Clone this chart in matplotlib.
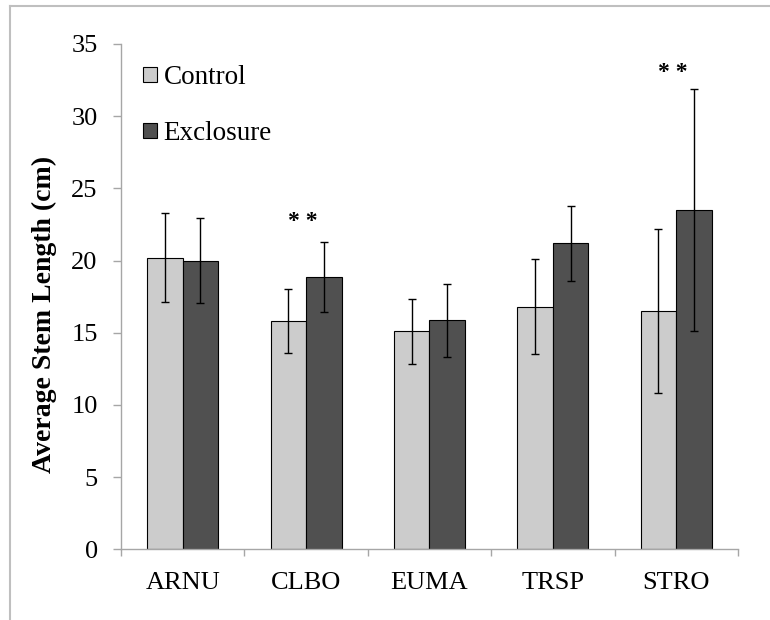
import numpy as np
import matplotlib
matplotlib.use('Agg')
import matplotlib.pyplot as plt
from matplotlib.patches import Patch
from matplotlib.lines import Line2D

plt.rcParams['font.family'] = ['Liberation Serif', 'DejaVu Serif']

#-----------------------------------------
species = ['ARNU', 'CLBO', 'EUMA', 'TRSP', 'STRO']
control = [20.2, 15.8, 15.1, 16.8, 16.5]
control_err = [3.1, 2.2, 2.25, 3.3, 5.7]
exclosure = [20.0, 18.85, 15.85, 21.2, 23.5]
exclosure_err = [2.95, 2.4, 2.5, 2.6, 8.4]
sig_species = ['CLBO', 'STRO']
sig_y = [22.7, 33.0]
#-----------------------------------------
c_col = '#cccccc'
e_col = '#505050'
axis_col = '#a6a6a6'

fig = plt.figure(figsize=(7.7, 6.2), dpi=100)
ax = fig.add_axes([0.1571, 0.1139, 0.8013, 0.8153])

x = np.arange(len(species))
w = 0.288
ax.bar(x - w/2, control, w, color=c_col, edgecolor='black', linewidth=0.8, zorder=2)
ax.bar(x + w/2, exclosure, w, color=e_col, edgecolor='black', linewidth=0.8, zorder=2)
ax.errorbar(x - w/2, control, yerr=control_err, fmt='none', ecolor='black',
            elinewidth=1.0, capsize=2.9, capthick=1.0, zorder=3)
ax.errorbar(x + w/2, exclosure, yerr=exclosure_err, fmt='none', ecolor='black',
            elinewidth=1.0, capsize=2.9, capthick=1.0, zorder=3)

for s, yy in zip(sig_species, sig_y):
    ax.text(species.index(s) - 0.03, yy, '* *', ha='center', va='center',
            fontsize=17, fontweight='bold')

ax.set_xlim(-0.5, len(species) - 0.5)
ax.set_ylim(0, 35)
ax.set_yticks(np.arange(0, 36, 5))
ax.set_xticks(x)
ax.set_xticklabels(species)
ax.set_xticks(np.arange(-0.5, len(species), 1), minor=True)
ax.tick_params(axis='x', which='major', length=0, pad=16, labelsize=19)
ax.tick_params(axis='x', which='minor', length=5, width=1.0, color=axis_col, direction='out')
ax.tick_params(axis='y', length=5.8, width=1.0, color=axis_col, pad=11, labelsize=19)
for sp in ['top', 'right']:
    ax.spines[sp].set_visible(False)
for sp in ['left', 'bottom']:
    ax.spines[sp].set_color(axis_col)
    ax.spines[sp].set_linewidth(1.0)

ax.set_ylabel('Average Stem Length (cm)', fontsize=20, fontweight='bold')
ax.yaxis.set_label_coords(-0.103, 0.464)

handles = [Patch(facecolor=c_col, edgecolor='black', linewidth=0.8),
           Patch(facecolor=e_col, edgecolor='black', linewidth=0.8)]
ax.legend(handles, ['Control', 'Exclosure'], loc='upper left',
          bbox_to_anchor=(0.036, 0.958), frameon=False, fontsize=19.5,
          handlelength=0.5, handleheight=0.5, handletextpad=0.25,
          labelspacing=1.15, borderpad=0, borderaxespad=0)

# chart border (left and top only, as in the source)
fig.add_artist(Line2D([10/770, 10/770], [0, 1 - 6/620], color='#bfbfbf', lw=1.5))
fig.add_artist(Line2D([10/770, 1], [1 - 6/620, 1 - 6/620], color='#bfbfbf', lw=1.5))

fig.savefig('out.png', dpi=100)
